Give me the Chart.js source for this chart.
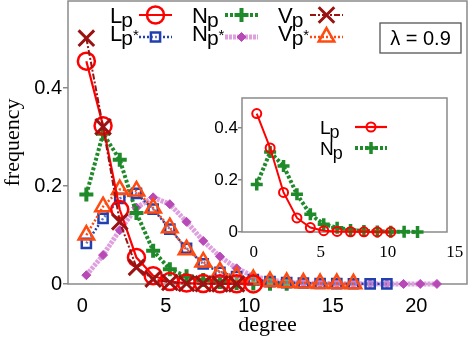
<!DOCTYPE html>
<html>
<head>
<meta charset="utf-8">
<script src="https://cdn.jsdelivr.net/npm/chart.js@4.4.0/dist/chart.umd.min.js"></script>
<style>
  html, body { margin: 0; padding: 0; background: #fff; }
  #wrap { position: relative; width: 471px; height: 338px; }
  #main { position: absolute; left: 0; top: 0; }
  #inset { position: absolute; left: 210px; top: 90px; }
</style>
</head>
<body>
<div id="wrap">
  <canvas id="main" width="471" height="338"></canvas>
  <canvas id="inset" width="261" height="170"></canvas>
</div>
<script>
// degree distributions, index = degree
var lp     = [0.455, 0.323, 0.152, 0.054, 0.017, 0.005, 0.002, 0.001, 0.0005, 0.0003, 0.0002];
var np     = [0.183, 0.307, 0.254, 0.145, 0.068, 0.030, 0.016, 0.008, 0.004, 0.002, 0.001, 0.0007, 0.0004];
var vp     = [0.502, 0.321, 0.127, 0.034, 0.010, 0.003, 0.001, 0.0005, 0.0003, 0.0002];
var lpStar = [0.083, 0.134, 0.175, 0.185, 0.153, 0.112, 0.073, 0.041, 0.024, 0.015, 0.009, 0.005, 0.003, 0.002, 0.001, 0.0008, 0.0005, 0.0003, 0.0002];
var npStar = [0.018, 0.059, 0.110, 0.156, 0.177, 0.163, 0.127, 0.088, 0.056, 0.032, 0.016, 0.008, 0.004, 0.002, 0.001, 0.0007, 0.0005, 0.0003, 0.0002, 0.0001, 0.0001, 0.0001];
var vpStar = [0.100, 0.158, 0.193, 0.190, 0.155, 0.115, 0.070, 0.045, 0.025, 0.015, 0.009, 0.005, 0.003, 0.002, 0.001, 0.0008, 0.0005];

var xTicks = [0, 5, 10, 15, 20];
var yTicks = [0, 0.2, 0.4];
var insetXTicks = [0, 5, 10, 15];
var insetYTicks = [0, 0.2, 0.4];
var lambdaText = "λ = 0.9";

function pts(arr) {
    return arr.map(function (v, i) { return {x: i, y: v}; });
}

// line + marker styles, shared by datasets and legend
var styles = {
    vp:     {color: '#9b1212', fill: 'rgba(0,0,0,0)', line: 2, dash: [6, 2, 2, 2], point: 'crossRot', r: 11, pw: 3},
    lp:     {color: '#ff0000', fill: 'rgba(0,0,0,0)', line: 2.2, dash: [], point: 'circle', r: 8.5, pw: 2.5},
    vpStar: {color: '#ff4a10', fill: 'rgba(0,0,0,0)', line: 2.5, dash: [2, 2], point: 'triangle', r: 9, pw: 2.5},
    lpStar: {color: '#2040b0', fill: 'rgba(255,255,255,0.3)', line: 2.5, dash: [2, 2], point: 'rect', r: 6.5, pw: 2.5},
    np:     {color: '#1f8a2a', fill: '#1f8a2a', line: 4, dash: [3, 2], point: 'cross', r: 7, pw: 4},
    npStar: {color: '#dfa0df', fill: '#b84ab8', line: 5, dash: [3, 1], point: 'rectRot', r: 4.5, pw: 1, pcolor: '#b84ab8'}
};

function ds(key, arr) {
    var s = styles[key];
    return {
        data: pts(arr),
        borderColor: s.color,
        borderWidth: s.line,
        borderDash: s.dash,
        pointStyle: s.point,
        pointRadius: s.r,
        pointBorderWidth: s.pw,
        pointBorderColor: s.pcolor || s.color,
        pointBackgroundColor: s.fill,
        tension: 0,
        clip: false
    };
}

function drawMarker(ctx, s, x, y, r, pw) {
    ctx.save();
    ctx.setLineDash([]);
    ctx.strokeStyle = s.pcolor || s.color;
    ctx.fillStyle = s.fill;
    ctx.lineWidth = pw;
    Chart.helpers.drawPoint(ctx, {pointStyle: s.point, radius: r, rotation: 0, borderWidth: pw}, x, y);
    ctx.restore();
}

function drawSample(ctx, s, x1, x2, y, r, pw) {
    ctx.save();
    ctx.strokeStyle = s.color;
    ctx.lineWidth = s.line;
    ctx.setLineDash(s.dash);
    ctx.beginPath();
    ctx.moveTo(x1, y);
    ctx.lineTo(x2, y);
    ctx.stroke();
    ctx.restore();
    drawMarker(ctx, s, (x1 + x2) / 2, y, r, pw);
}

function drawName(ctx, big, star, x, y, size) {
    ctx.save();
    ctx.fillStyle = '#000';
    ctx.textBaseline = 'alphabetic';
    ctx.textAlign = 'left';
    ctx.font = size + 'px "Liberation Sans", Arial, sans-serif';
    ctx.fillText(big, x, y);
    var w = ctx.measureText(big).width;
    ctx.font = (size - 1) + 'px "Liberation Sans", Arial, sans-serif';
    ctx.fillText('p', x + w - 1, y + 4);
    var w2 = ctx.measureText('p').width;
    if (star) {
        ctx.font = Math.round(size * 0.7) + 'px "Liberation Sans", Arial, sans-serif';
        ctx.fillText('*', x + w + w2 - 1, y - 1);
    }
    ctx.restore();
}

var framePlugin = {
    id: 'frame',
    beforeDraw: function (chart) {
        var a = chart.chartArea, ctx = chart.ctx;
        ctx.save();
        ctx.fillStyle = '#fff';
        ctx.fillRect(a.left, a.top, a.right - a.left, a.bottom - a.top);
        ctx.restore();
    },
    beforeDatasetsDraw: function (chart) {
        var a = chart.chartArea, ctx = chart.ctx;
        ctx.save();
        ctx.strokeStyle = '#8a8a8a';
        ctx.lineWidth = 1.5;
        ctx.strokeRect(a.left, a.top, a.right - a.left, a.bottom - a.top);
        ctx.restore();
    }
};

var mainLegend = {
    id: 'mainLegend',
    afterDraw: function (chart) {
        var ctx = chart.ctx;
        var cols = [
            {t: 'L', k1: 'lp', k2: 'lpStar', tx: 110, sx: 139},
            {t: 'N', k1: 'np', k2: 'npStar', tx: 192, sx: 225},
            {t: 'V', k1: 'vp', k2: 'vpStar', tx: 278, sx: 310}
        ];
        cols.forEach(function (c) {
            drawName(ctx, c.t, false, c.tx, 23, 22);
            drawName(ctx, c.t, true, c.tx, 41, 22);
            var s1 = styles[c.k1], s2 = styles[c.k2];
            drawSample(ctx, s1, c.sx, c.sx + 33, 15, s1.r, s1.pw);
            drawSample(ctx, s2, c.sx, c.sx + 33, 37, s2.r, s2.pw);
        });
        // lambda box
        ctx.save();
        ctx.strokeStyle = '#555';
        ctx.lineWidth = 1.3;
        ctx.strokeRect(380, 23, 81, 30);
        ctx.fillStyle = '#000';
        ctx.font = '20px "Liberation Sans", Arial, sans-serif';
        ctx.textAlign = 'center';
        ctx.textBaseline = 'middle';
        ctx.fillText(lambdaText, 420.5, 39);
        ctx.restore();
    }
};

var insetLegend = {
    id: 'insetLegend',
    afterDraw: function (chart) {
        var ctx = chart.ctx;
        // canvas offset: left 210, top 90
        drawName(ctx, 'L', false, 110, 44, 19);
        drawName(ctx, 'N', false, 110, 65, 19);
        var s1 = styles.lp, s2 = styles.np;
        drawSample(ctx, s1, 145, 177, 37, 4.5, 2);
        drawSample(ctx, s2, 145, 177, 58, 6, 3.5);
    }
};

function fitX(h) {
    return function (s) { s.height = h; s.paddingLeft = 0; s.paddingRight = 0; };
}
function fitY(w) {
    return function (s) { s.width = w; s.paddingTop = 0; s.paddingBottom = 0; };
}

var sansTick = {family: '"Liberation Sans", Arial, sans-serif', size: 20};
var serifTitle = {family: '"Liberation Serif", "Times New Roman", serif', size: 22};

new Chart(document.getElementById('main').getContext('2d'), {
    type: 'line',
    data: {
        datasets: [
            ds('vp', vp),
            ds('lp', lp),
            ds('vpStar', vpStar),
            ds('lpStar', lpStar),
            ds('np', np),
            ds('npStar', npStar)
        ]
    },
    options: {
        responsive: false,
        devicePixelRatio: 1,
        animation: false,
        layout: {autoPadding: false, padding: {top: 1, right: 4, left: 0, bottom: 0}},
        plugins: {legend: {display: false}, tooltip: {enabled: false}},
        scales: {
            x: {
                type: 'linear',
                min: -1.1,
                max: 22.8,
                afterBuildTicks: function (s) { s.ticks = xTicks.map(function (v) { return {value: v}; }); },
                afterFit: fitX(54),
                grid: {display: false},
                border: {display: false},
                ticks: {font: sansTick, color: '#000', padding: 2, labelOffset: -4, maxRotation: 0,
                    callback: function (v) { return String(v); }},
                title: {display: true, text: 'degree', font: serifTitle, color: '#000', padding: {top: 0, bottom: 0}}
            },
            y: {
                min: 0,
                max: 0.578,
                afterBuildTicks: function (s) { s.ticks = yTicks.map(function (v) { return {value: v}; }); },
                afterFit: fitY(68),
                grid: {display: true, drawOnChartArea: false, drawTicks: true, tickLength: 5, color: '#8a8a8a', lineWidth: 1.5},
                border: {display: false},
                ticks: {font: sansTick, color: '#000', padding: 1,
                    callback: function (v) { return String(v); }},
                title: {display: true, text: 'frequency', font: serifTitle, color: '#000', padding: {top: 0, bottom: 0}}
            }
        }
    },
    plugins: [framePlugin, mainLegend]
});

new Chart(document.getElementById('inset').getContext('2d'), {
    type: 'line',
    data: {
        datasets: [
            Object.assign(ds('lp', lp), {pointRadius: 4.5, pointBorderWidth: 2, borderWidth: 2}),
            Object.assign(ds('np', np), {pointRadius: 6, pointBorderWidth: 3.5, borderWidth: 4})
        ]
    },
    options: {
        responsive: false,
        devicePixelRatio: 1,
        animation: false,
        layout: {autoPadding: false, padding: {top: 8, right: 24, left: 0, bottom: 0}},
        plugins: {legend: {display: false}, tooltip: {enabled: false}},
        scales: {
            x: {
                type: 'linear',
                min: -1.1,
                max: 14.2,
                afterBuildTicks: function (s) { s.ticks = insetXTicks.map(function (v) { return {value: v}; }); },
                afterFit: fitX(28),
                grid: {display: false},
                border: {display: false},
                ticks: {font: {family: '"Liberation Serif", "Times New Roman", serif', size: 17}, color: '#000', padding: 2, labelOffset: -3, maxRotation: 0, autoSkip: false,
                    callback: function (v) { return String(v); }}
            },
            y: {
                min: 0,
                max: 0.515,
                afterBuildTicks: function (s) { s.ticks = insetYTicks.map(function (v) { return {value: v}; }); },
                afterFit: fitY(32),
                grid: {display: true, drawOnChartArea: false, drawTicks: true, tickLength: 4, color: '#8a8a8a', lineWidth: 1.5},
                border: {display: false},
                ticks: {font: {family: '"Liberation Sans", Arial, sans-serif', size: 17}, color: '#000', padding: 0,
                    callback: function (v) { return String(v); }}
            }
        }
    },
    plugins: [framePlugin, insetLegend]
});
</script>
</body>
</html>
